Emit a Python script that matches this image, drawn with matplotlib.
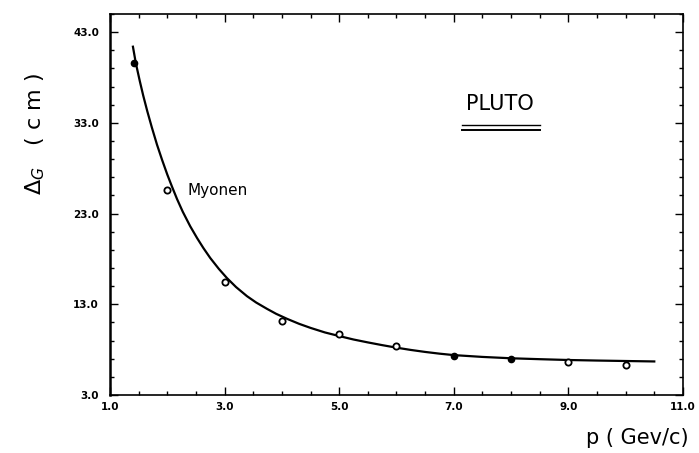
import matplotlib
matplotlib.use("Agg")
import matplotlib.pyplot as plt
from matplotlib.ticker import FixedLocator, FormatStrFormatter

# measured points (p in GeV/c, Delta_G in cm)
p_open = [2.0, 3.0, 4.0, 5.0, 6.0, 9.0, 10.0]
d_open = [25.6, 15.5, 11.2, 9.7, 8.35, 6.6, 6.35]
p_full = [1.42, 7.0, 8.0]
d_full = [39.6, 7.35, 7.0]

# fitted curve
p_fit = [1.40, 1.45, 1.52, 1.58, 1.65, 1.73, 1.82, 1.91, 2.0, 2.08, 2.17,
         2.27, 2.4, 2.52, 2.63, 2.75, 2.9, 3.04, 3.2, 3.39, 3.55, 3.74,
         3.9, 4.09, 4.3, 4.5, 4.75, 5.0, 5.25, 5.5, 5.75, 6.0, 6.25, 6.5,
         6.75, 7.0, 7.5, 8.0, 8.5, 9.0, 9.5, 10.0, 10.5]
d_fit = [41.4, 39.6, 37.6, 36.0, 34.3, 32.5, 30.6, 28.9, 27.3, 26.0, 24.6,
         23.2, 21.6, 20.3, 19.2, 18.1, 16.9, 15.9, 14.9, 13.9, 13.2, 12.5,
         11.95, 11.4, 10.85, 10.4, 9.9, 9.5, 9.12, 8.8, 8.5, 8.22, 7.97, 7.75,
         7.56, 7.4, 7.2, 7.05, 6.95, 6.86, 6.8, 6.75, 6.7]

x_ticks = [1.0, 3.0, 5.0, 7.0, 9.0, 11.0]
y_ticks = [3.0, 13.0, 23.0, 33.0, 43.0]

fig = plt.figure(figsize=(6.99, 4.53), dpi=100)
ax = fig.add_axes([0.1574, 0.128, 0.8196, 0.841])

ax.plot(p_fit, d_fit, color="black", lw=1.6, zorder=2)
ax.plot(p_open, d_open, "o", ms=4.5, mfc="white", mec="black", mew=1.3, zorder=3)
ax.plot(p_full, d_full, "o", ms=4.5, color="black", zorder=3)

ax.set_xlim(1.0, 11.0)
ax.set_ylim(3.0, 45.0)
ax.xaxis.set_major_locator(FixedLocator(x_ticks))
ax.xaxis.set_minor_locator(FixedLocator([1.0 + 0.5 * i for i in range(21)]))
ax.yaxis.set_major_locator(FixedLocator(y_ticks))
ax.yaxis.set_minor_locator(FixedLocator([3.0 + 2.0 * i for i in range(22)]))
ax.xaxis.set_major_formatter(FormatStrFormatter("%.1f"))
ax.yaxis.set_major_formatter(FormatStrFormatter("%.1f"))
ax.tick_params(which="both", direction="in", top=True, right=True,
               labelsize=7.5, width=1.0)
ax.tick_params(which="major", length=6)
ax.tick_params(which="minor", length=3)
for lab in ax.get_xticklabels() + ax.get_yticklabels():
    lab.set_fontweight("bold")
ax.tick_params(axis="x", pad=5)
ax.tick_params(axis="y", pad=8)

for s in ["top", "bottom", "right"]:
    ax.spines[s].set_linewidth(1.2)
ax.spines["left"].set_linewidth(1.8)

ax.text(2.35, 25.6, "Myonen", fontsize=11, va="center", ha="left")
ax.text(7.8, 35.1, "PLUTO", fontsize=15, ha="center", va="center")
ax.plot([7.15, 8.5], [32.8, 32.8], color="black", lw=1.0)
ax.plot([7.15, 8.5], [32.2, 32.2], color="black", lw=1.4)

fig.text(0.05, 0.705, r"$\Delta_G$   ( c m )", rotation=90, fontsize=16,
         ha="center", va="center")
fig.text(0.985, 0.033, "p ( Gev/c)", fontsize=15, ha="right", va="center")

fig.savefig("out.png", dpi=100)
